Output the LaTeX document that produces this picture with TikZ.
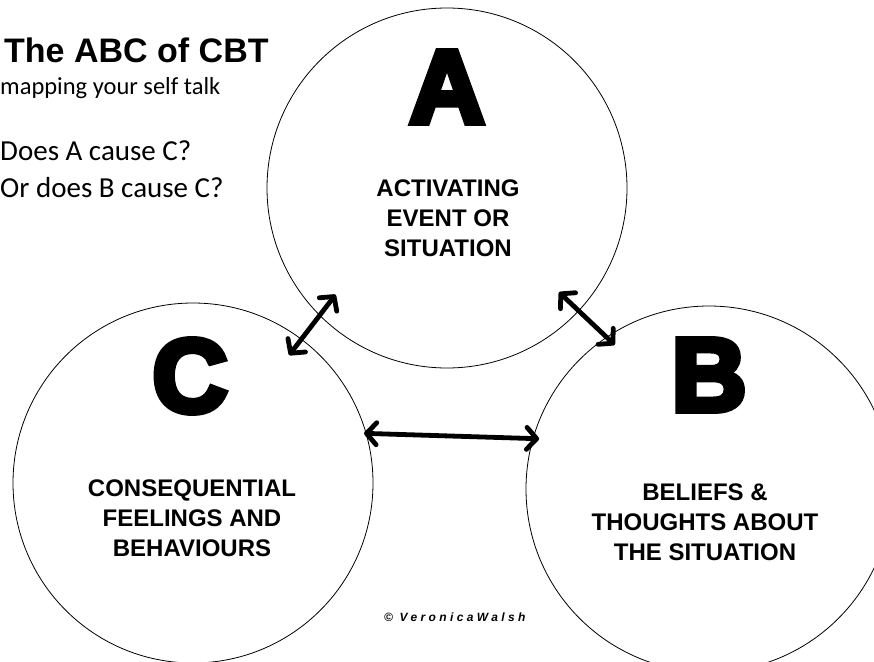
\documentclass[tikz,border=0pt]{standalone}
\usepackage{fontspec}
\setmainfont{Liberation Sans}
\newfontfamily\calibrifont{Carlito}
\newfontfamily\blackfont[FakeBold=6]{Liberation Sans Bold}
\usetikzlibrary{arrows.meta}

\begin{document}
\begin{tikzpicture}[x=1pt,y=-1pt,
    link/.style={line width=4.8pt,
      {Straight Barb[length=10pt,width=22pt,line width=4.8pt,round]}-{Straight Barb[length=10pt,width=22pt,line width=4.8pt,round]}},
    caption/.style={align=center,inner sep=0pt,
      font=\bfseries\fontsize{24}{30}\selectfont},
    side/.style={anchor=base west,inner sep=0pt}]
  \useasboundingbox (0,0) rectangle (874,661);

  \begin{scope}[every node/.style={circle,draw,line width=0.8pt,inner sep=0pt,outer sep=0pt}]
    \node[minimum size=360pt] (A) at (447,188) {};
    \node[minimum size=366pt] (B) at (709,489) {};
    \node[minimum size=360pt] (C) at (193,483) {};
  \end{scope}

  \begin{scope}[every node/.style={inner sep=0pt,font=\blackfont\fontsize{104}{104}\selectfont}]
    \node (a) at (447,87) {A};
    \node (b) at (709,375) {B};
    \node (c) at (190,376) {C};
  \end{scope}

  \node[caption] (event) at (448,218) {ACTIVATING\\EVENT OR\\SITUATION};
  \node[caption] (beliefs) at (705,522) {BELIEFS \&\\THOUGHTS ABOUT\\THE SITUATION};
  \node[caption] (conseq) at (192,518) {CONSEQUENTIAL\\FEELINGS AND\\BEHAVIOURS};

  \node[side,font=\bfseries\fontsize{34}{40}\selectfont] (title) at (4,63) {The ABC of CBT};
  \node[side,font=\calibrifont\fontsize{24.5}{30}\selectfont] (sub) at (0,94) {mapping your self talk};
  \node[side,font=\calibrifont\fontsize{29}{35}\selectfont] (qa) at (0,160) {Does A cause C?};
  \node[side,font=\calibrifont\fontsize{29}{35}\selectfont] (qb) at (0,197) {Or does B cause C?};
  \node[side,font=\bfseries\itshape\fontsize{12}{14}\selectfont\addfontfeature{LetterSpace=28}] (copy) at (384,621) {© VeronicaWalsh};

  \begin{scope}
    \path [link] (C.53.7) edge[shorten <=-20pt,shorten >=-26pt] (A.225.6);
    \path [link] (A.-43.2) edge[shorten <=-27pt,shorten >=-11pt] (B.124.5);
    \path [link] (C.16) edge[shorten <=-2pt,shorten >=-6pt] (B.164);
  \end{scope}
\end{tikzpicture}
\end{document}
